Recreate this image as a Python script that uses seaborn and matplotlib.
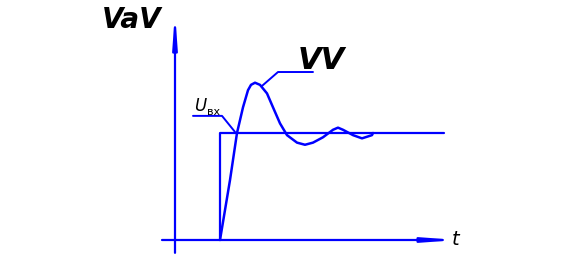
import numpy as np
import pandas as pd
import matplotlib
matplotlib.use("Agg")
import matplotlib.pyplot as plt
import seaborn as sns

# Transient response (time units, output relative to step height)
t_resp = [0.0, 1.0, 1.7, 2.3, 2.8, 3.1, 3.5, 4.0, 4.7, 5.3, 6.0, 6.7, 7.7, 8.5,
          9.3, 10.3, 11.3, 11.8, 12.3, 13.3, 14.2, 15.2, 15.3]
y_resp = [0.0, 0.56, 1.0, 1.24, 1.40, 1.45, 1.47, 1.45, 1.37, 1.24, 1.09, 0.98,
          0.91, 0.89, 0.91, 0.96, 1.03, 1.05, 1.03, 0.98, 0.95, 0.98, 1.0]
# Step input
t_step = [0.0, 0.0, 22.4]
y_step = [0.0, 1.0, 1.0]

labels = {"y": "VaV", "out": "VV", "inp": "U", "inp_sub": "вх", "t": "t"}

sns.set_style("white")
plt.rcParams['font.family'] = ['DejaVu Sans']

fig = plt.figure(figsize=(5.61, 2.63), dpi=100)
ax = fig.add_axes([0, 0, 1, 1])
ax.set_xlim(-22.0, 34.1)
ax.set_ylim(-0.215, 2.243)
ax.axis("off")

blue = "#0000FF"
resp = pd.DataFrame({"t": t_resp, "y": y_resp})
step = pd.DataFrame({"t": t_step, "y": y_step})
sns.lineplot(data=step, x="t", y="y", ax=ax, color=blue, lw=1.6, sort=False, estimator=None)
sns.lineplot(data=resp, x="t", y="y", ax=ax, color=blue, lw=1.8, sort=False, estimator=None)

# axes with arrows
arr = dict(arrowstyle="-|>,head_length=1.8,head_width=0.13", color=blue, lw=1.6,
           shrinkA=0, shrinkB=0)
ax.annotate("", xy=(23.8, 0.0), xytext=(-5.8, 0.0), arrowprops=arr)
ax.annotate("", xy=(-4.5, 2.13), xytext=(-4.5, -0.12), arrowprops=arr)

# leader lines
ax.plot([-2.7, 0.2, 1.5], [1.16, 1.16, 1.01], color=blue, lw=1.4)
ax.plot([4.2, 5.8, 9.3], [1.44, 1.57, 1.57], color=blue, lw=1.4)

# texts
ax.text(-11.8, 2.06, labels["y"], fontsize=20, fontweight="bold", fontstyle="italic",
        ha="left", va="center", color="black")
ax.text(7.8, 1.68, labels["out"], fontsize=22, fontweight="bold", fontstyle="italic",
        ha="left", va="center", color="black")
ax.text(-2.55, 1.25, labels["inp"], fontsize=12, fontstyle="italic",
        ha="left", va="center", color="black")
ax.text(-1.25, 1.20, labels["inp_sub"], fontsize=8,
        ha="left", va="center", color="black")
ax.text(23.2, 0.0, labels["t"], fontsize=14, fontstyle="italic",
        ha="left", va="center", color="black")

fig.savefig("out.png", dpi=100)
